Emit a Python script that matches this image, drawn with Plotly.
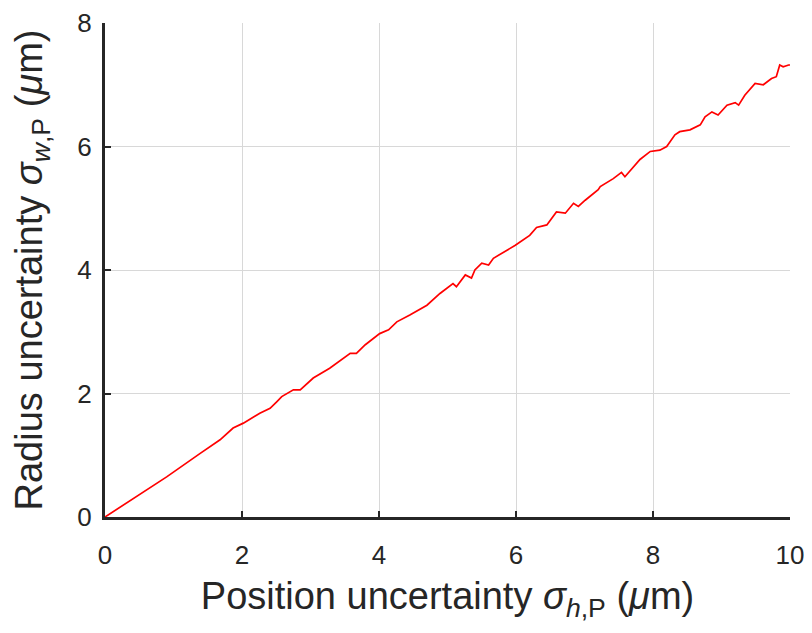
import plotly.graph_objects as go

x_vals = [0.00, 0.41, 0.90, 1.39, 1.68, 1.87, 2.02, 2.26, 2.41, 2.51, 2.58, 2.75, 2.85, 3.04,
          3.28, 3.58, 3.67, 3.80, 4.01, 4.14, 4.26, 4.45, 4.70, 4.89, 4.96, 5.08, 5.13, 5.26,
          5.35, 5.40, 5.50, 5.60, 5.67, 5.99, 6.20, 6.30, 6.45, 6.59, 6.72, 6.84, 6.91, 7.01,
          7.20, 7.23, 7.42, 7.54, 7.59, 7.81, 7.96, 8.10, 8.20, 8.32, 8.39, 8.54, 8.69, 8.76,
          8.86, 8.95, 9.08, 9.20, 9.25, 9.34, 9.49, 9.61, 9.73, 9.80, 9.85, 9.90, 9.98, 10.00]
y_vals = [0.00, 0.30, 0.65, 1.03, 1.25, 1.44, 1.52, 1.68, 1.76, 1.87, 1.95, 2.06, 2.06, 2.25,
          2.41, 2.65, 2.65, 2.79, 2.97, 3.03, 3.16, 3.27, 3.43, 3.62, 3.68, 3.78, 3.73, 3.92,
          3.87, 4.00, 4.11, 4.08, 4.19, 4.40, 4.56, 4.69, 4.73, 4.94, 4.92, 5.08, 5.03, 5.13,
          5.30, 5.35, 5.48, 5.58, 5.51, 5.79, 5.92, 5.94, 6.00, 6.19, 6.24, 6.27, 6.35, 6.48,
          6.56, 6.51, 6.67, 6.71, 6.67, 6.83, 7.02, 7.00, 7.10, 7.13, 7.32, 7.29, 7.32, 7.32]

x_ticks = [0, 2, 4, 6, 8, 10]
y_ticks = [0, 2, 4, 6, 8]

fig = go.Figure()
fig.add_trace(go.Scatter(x=x_vals, y=y_vals, mode="lines",
                         line=dict(color="#ff0000", width=1.7), showlegend=False))

font = "Liberation Sans, Arial, sans-serif"
fig.update_layout(
    width=804, height=625,
    margin=dict(l=97, r=22, t=15, b=116),
    paper_bgcolor="white", plot_bgcolor="white",
    font=dict(family=font, color="#262626"),
    xaxis=dict(range=[0, 10], tickvals=x_ticks, ticks="inside", ticklen=6, tickwidth=2,
               tickcolor="#262626", showline=True, linecolor="#262626", linewidth=3,
               showgrid=True, gridcolor="#d8d8d8", gridwidth=1, zeroline=False,
               tickfont=dict(size=26), ticklabelstandoff=13, automargin=False,
               title=dict(text="Position uncertainty <i>σ</i><sub><i>h</i>,P</sub> (<i>μ</i>m)",
                          font=dict(size=38), standoff=14)),
    yaxis=dict(range=[0, 8], tickvals=y_ticks, ticks="inside", ticklen=6, tickwidth=2,
               tickcolor="#262626", showline=True, linecolor="#262626", linewidth=3,
               showgrid=True, gridcolor="#d8d8d8", gridwidth=1, zeroline=False,
               tickfont=dict(size=26), ticklabelstandoff=5, automargin=False,
               title=dict(text="Radius uncertainty <i>σ</i><sub><i>w</i>,P</sub> (<i>μ</i>m)",
                          font=dict(size=38), standoff=31)),
)

fig.write_html("out.html")
